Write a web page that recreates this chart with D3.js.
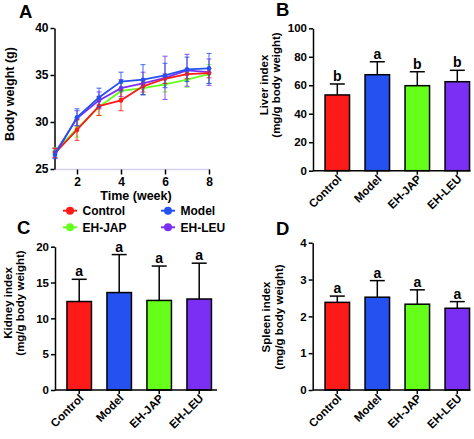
<!DOCTYPE html>
<html><head><meta charset="utf-8">
<script src="https://cdn.jsdelivr.net/npm/d3@7"></script>
<style>
html,body{margin:0;padding:0;background:#fff;}
svg{display:block;font-family:"Liberation Sans",Arial,sans-serif;font-weight:bold;}
</style></head>
<body>
<svg id="c" width="474" height="439"></svg>
<script>
// ---------- DATA ----------
const weeks = [1,2,3,4,5,6,7,8];
const weekTicks = [2,4,6,8];
const bwTicks = [25,30,35,40];
const groups = ["Control","Model","EH-JAP","EH-LEU"];
const colors = ["#ff1a1a","#2451f0","#66ff1a","#7b2ff5"];

const bwControl = [26.7,29.15,31.7,32.3,33.8,34.6,35.1,35.2];
const bwControlSD = [0.5,1.1,1.0,1.1,0.6,0.5,0.5,0.5];
const bwModel = [26.5,30.5,32.6,34.3,34.5,34.95,35.6,35.7];
const bwModelSD = [0.4,0.9,1.0,1.0,1.6,1.3,1.3,1.6];
const bwJAP = [26.9,29.3,31.6,33.3,33.6,34.0,34.5,35.1];
const bwJAPSD = [0.4,0.9,0.9,0.8,0.7,0.8,0.8,1.0];
const bwLEU = [26.7,30.4,32.3,33.6,34.1,34.7,35.5,35.3];
const bwLEUSD = [0.5,0.8,0.9,0.9,1.2,2.3,1.7,1.4];

const liver = [53.2,67.4,59.7,62.5];
const liverSD = [7.7,9.1,9.8,8.0];
const liverLetters = ["b","a","b","b"];
const liverTicks = [0,20,40,60,80,100];

const kidney = [12.35,13.6,12.5,12.7];
const kidneySD = [3.1,5.3,4.8,5.0];
const kidneyLetters = ["a","a","a","a"];
const kidneyTicks = [0,5,10,15,20];

const spleen = [2.38,2.52,2.33,2.22];
const spleenSD = [0.17,0.45,0.39,0.18];
const spleenLetters = ["a","a","a","a"];
const spleenTicks = [0,1,2,3,4];

// ---------- DRAW ----------
const svg = d3.select("#c");
const fmt = d3.format("d");

function panelLetter(t,x,y){
  svg.append("text").attr("x",x).attr("y",y).attr("font-size",18.5).text(t);
}
panelLetter("A",19,17.5);
panelLetter("B",276,16);
panelLetter("C",17,233.5);
panelLetter("D",276,235);

// ----- Panel A -----
(function(){
  const x = d3.scaleLinear().domain([1,8]).range([55,209]);
  const y = d3.scaleLinear().domain([25,40]).range([169,28]);
  const g = svg.append("g");
  g.append("line").attr("x1",54.5).attr("x2",209.5).attr("y1",169.5).attr("y2",169.5)
    .attr("stroke","#d8cff0").attr("stroke-width",1.5);
  const xa = g.append("g").attr("transform","translate(0,169.5)")
    .call(d3.axisBottom(x).tickValues(weekTicks).tickFormat(fmt).tickSize(5).tickPadding(3));
  xa.select(".domain").remove();
  xa.selectAll("line").attr("stroke","#000").attr("stroke-width",1.5);
  xa.selectAll("text").attr("font-size",12).attr("font-family","Liberation Sans, Arial").attr("font-weight","bold").attr("fill","#000");
  const ya = g.append("g").attr("transform","translate(54.5,0)")
    .call(d3.axisLeft(y).tickValues(bwTicks).tickFormat(fmt).tickSize(4).tickSizeOuter(0).tickPadding(2));
  ya.selectAll("path,line").attr("stroke","#000").attr("stroke-width",1.5);
  ya.selectAll("text").attr("font-size",12).attr("font-family","Liberation Sans, Arial").attr("font-weight","bold").attr("fill","#000");
  g.append("text").attr("transform","translate(13.5,94) rotate(-90)").attr("text-anchor","middle")
    .attr("font-size",12.5).text("Body weight (g)");
  g.append("text").attr("x",136).attr("y",199.5).attr("text-anchor","middle")
    .attr("font-size",12.5).text("Time (week)");

  const series = [[bwControl,bwControlSD],[bwModel,bwModelSD],[bwJAP,bwJAPSD],[bwLEU,bwLEUSD]];
  const order = [2,3,0,1];
  const line = d3.line().x((d,i)=>x(weeks[i])).y(d=>y(d));
  order.forEach(k=>{
    const [m,sd] = series[k];
    const c = colors[k];
    const sg = g.append("g");
    m.forEach((v,i)=>{
      const xx = x(weeks[i]);
      sg.append("line").attr("x1",xx).attr("x2",xx).attr("y1",y(v-sd[i])).attr("y2",y(v+sd[i]))
        .attr("stroke",c).attr("stroke-width",1).attr("opacity",0.85);
      [v-sd[i],v+sd[i]].forEach(e=>{
        sg.append("line").attr("x1",xx-2.5).attr("x2",xx+2.5).attr("y1",y(e)).attr("y2",y(e))
          .attr("stroke",c).attr("stroke-width",1).attr("opacity",0.85);
      });
    });
    sg.append("path").datum(m).attr("d",line).attr("fill","none").attr("stroke",c).attr("stroke-width",1.8);
    sg.selectAll("circle").data(m).enter().append("circle")
      .attr("cx",(d,i)=>x(weeks[i])).attr("cy",d=>y(d)).attr("r",2.3).attr("fill",c);
  });

  const leg = [[70,210.7],[168,210.7],[70,227.3],[168,227.3]];
  groups.forEach((name,k)=>{
    const [cx,cy] = leg[k];
    g.append("line").attr("x1",cx-7).attr("x2",cx+7).attr("y1",cy).attr("y2",cy)
      .attr("stroke",colors[k]).attr("stroke-width",2);
    g.append("circle").attr("cx",cx).attr("cy",cy).attr("r",4).attr("fill",colors[k]);
    g.append("text").attr("x",cx+12.5).attr("y",cy+4.3).attr("font-size",12).text(name);
  });
})();

// ----- Bar panels -----
function barPanel(opt){
  const {values,sd,letters,ticks,ymax,yr,xr,axisX,axisEnd,lab1,lab2,lab1x,lab2x,labY} = opt;
  const g = svg.append("g");
  const x = d3.scaleBand().domain(groups).range(xr).paddingInner(0.3875).paddingOuter(0.19375);
  const y = d3.scaleLinear().domain([0,ymax]).range(yr);
  const base = y(0);
  groups.forEach((name,i)=>{
    const x0 = x(name), w = x.bandwidth(), cx = x0 + w/2;
    const top = y(values[i]), et = y(values[i]+sd[i]);
    g.append("line").attr("x1",cx).attr("x2",cx).attr("y1",top).attr("y2",et)
      .attr("stroke","#000").attr("stroke-width",1.5);
    g.append("line").attr("x1",cx-7.5).attr("x2",cx+7.5).attr("y1",et).attr("y2",et)
      .attr("stroke","#000").attr("stroke-width",1.5);
    g.append("rect").attr("x",x0).attr("y",top).attr("width",w).attr("height",base-top)
      .attr("fill",colors[i]).attr("stroke","#000").attr("stroke-width",1.5);
    g.append("text").attr("x",cx).attr("y",et-3).attr("text-anchor","middle")
      .attr("font-size",14).text(letters[i]);
  });
  const ya = g.append("g").attr("transform",`translate(${axisX},0)`)
    .call(d3.axisLeft(y).tickValues(ticks).tickFormat(fmt).tickSize(4).tickSizeOuter(0).tickPadding(2));
  ya.selectAll("path,line").attr("stroke","#000").attr("stroke-width",1.5);
  ya.selectAll("text").attr("font-size",11.5).attr("font-family","Liberation Sans, Arial").attr("font-weight","bold").attr("fill","#000");
  g.append("line").attr("x1",axisX).attr("x2",axisEnd).attr("y1",base).attr("y2",base)
    .attr("stroke","#000").attr("stroke-width",1.5);
  const xa = g.append("g").attr("transform",`translate(0,${base})`)
    .call(d3.axisBottom(x).tickSize(4).tickFormat(""));
  xa.select(".domain").remove();
  xa.selectAll("line").attr("stroke","#000").attr("stroke-width",1.5);
  groups.forEach(name=>{
    const cx = x(name)+x.bandwidth()/2;
    g.append("text").attr("transform",`translate(${cx+5},${base+9}) rotate(-45)`)
      .attr("text-anchor","end").attr("font-size",11.5).text(name);
  });
  g.append("text").attr("transform",`translate(${lab1x},${labY}) rotate(-90)`).attr("text-anchor","middle")
    .attr("font-size",11.5).text(lab1);
  g.append("text").attr("transform",`translate(${lab2x},${labY}) rotate(-90)`).attr("text-anchor","middle")
    .attr("font-size",11.5).text(lab2);
}

barPanel({values:liver,sd:liverSD,letters:liverLetters,ticks:liverTicks,ymax:100,
  yr:[170.7,28.3],xr:[317.3,477.3],axisX:313,axisEnd:470.5,
  lab1:"Liver index",lab2:"(mg/g body weight)",lab1x:267.5,lab2x:280,labY:85});
barPanel({values:kidney,sd:kidneySD,letters:kidneyLetters,ticks:kidneyTicks,ymax:20,
  yr:[390,246.7],xr:[59.2,219.2],axisX:55,axisEnd:217,
  lab1:"Kidney index",lab2:"(mg/g body weight)",lab1x:11.5,lab2x:24,labY:303});
barPanel({values:spleen,sd:spleenSD,letters:spleenLetters,ticks:spleenTicks,ymax:4,
  yr:[390,242.7],xr:[317.3,477.3],axisX:312.7,axisEnd:470.5,
  lab1:"Spleen index",lab2:"(mg/g body weight)",lab1x:270,lab2x:282.5,labY:317});
</script>
</body></html>
